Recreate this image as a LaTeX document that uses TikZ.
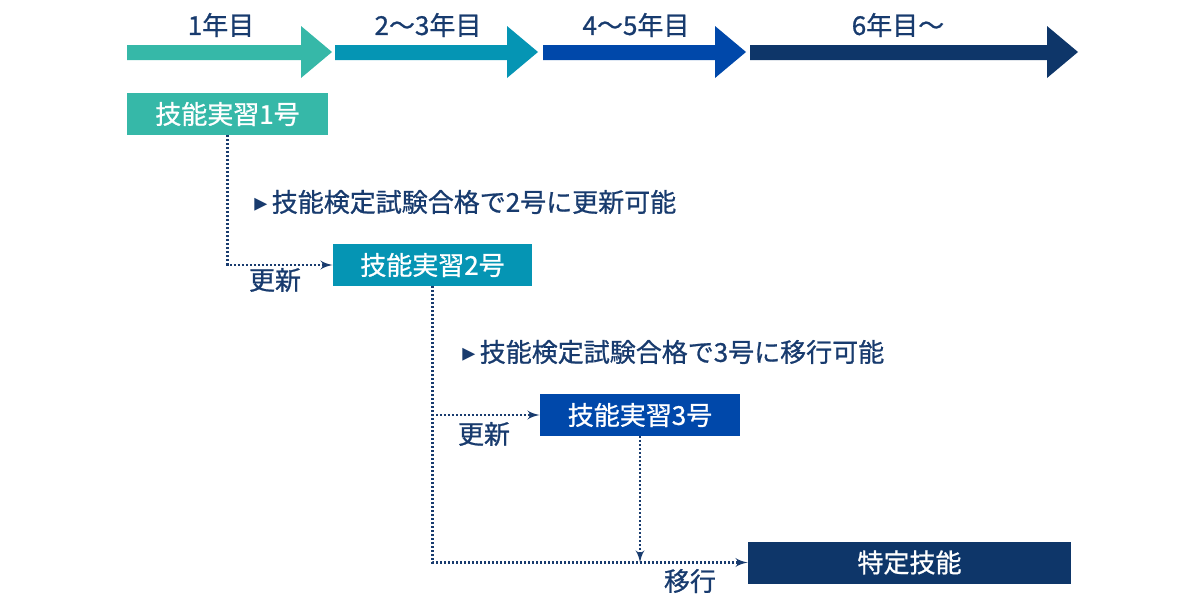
\documentclass[tikz,border=0pt]{standalone}
\usepackage{fontspec}
\setmainfont{Noto Sans CJK JP}[FakeBold=0.8]
\newfontfamily\symfont{DejaVu Sans}
\usepackage{tikz}
\usetikzlibrary{arrows}
\definecolor{stepA}{HTML}{36B8A8}
\definecolor{stepB}{HTML}{0595B4}
\definecolor{stepC}{HTML}{0048AA}
\definecolor{stepD}{HTML}{0E3669}
\definecolor{txtnavy}{HTML}{183B6E}
\tikzstyle{stage}=[text=white, minimum height=21pt, inner sep=0pt, font=\fontsize{13}{15}\selectfont]
\tikzstyle{lbl}=[text=txtnavy, inner sep=0pt, font=\fontsize{13}{15}\selectfont]
\tikzstyle{link}=[draw=txtnavy, line width=1.1pt, dash pattern=on 1pt off 1pt, ->]

\begin{document}
\begin{tikzpicture}[x=0.5pt,y=-0.5pt,>=latex']
\useasboundingbox (0,0) rectangle (1200,600);
% timeline
\foreach \xa/\xb/\col/\lx/\txt in {127/332/stepA/221/1年目, 335/538/stepB/428/2〜3年目, 543/746/stepC/636/4〜5年目, 750/1078/stepD/898/6年目〜}{
  \fill[\col] (\xa,45) -- (\xb-31,45) -- (\xb-31,26) -- (\xb,52) -- (\xb-31,78) -- (\xb-31,60) -- (\xa,60) -- cycle;
  \node[lbl] (yr\xa) at (\lx,25) {\txt};
}
\node [stage, fill=stepA, minimum width=100.5pt] (tr1) at (227.5,114) {技能実習1号};
\node [stage, fill=stepB, minimum width=99.5pt] (tr2) at (432.5,265) {技能実習2号};
\node [stage, fill=stepC, minimum width=100pt] (tr3) at (640,415) {技能実習3号};
\node [stage, fill=stepD, minimum width=161.5pt] (ssw) at (909.5,562.5) {特定技能};
\node [lbl, anchor=west] (n1) at (254,202) {{\symfont ▸}\,技能検定試験合格で2号に更新可能};
\node [lbl, anchor=west] (n2) at (462,352) {{\symfont ▸}\,技能検定試験合格で3号に移行可能};
\draw[link] (tr1.south) |- (tr2.west);
\draw[link] (tr2.south) |- (tr3.west);
\draw[link] (tr2.south) |- (ssw.west);
\draw[link] (tr3.south) -- (tr3.south |- ssw.west);
\node [lbl] (up1) at (275,280) {更新};
\node [lbl] (up2) at (484,434) {更新};
\node [lbl] (mv) at (690,581) {移行};
\end{tikzpicture}
\end{document}
